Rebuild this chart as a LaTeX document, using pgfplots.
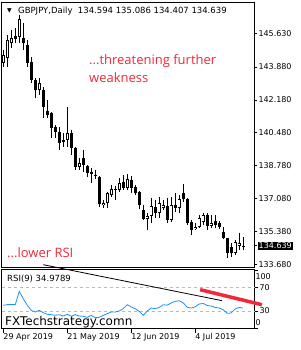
\documentclass[border=0pt]{standalone}
\usepackage{pgfplots}
\pgfplotsset{compat=1.18}
\usepackage{fontspec}
\setmainfont{DejaVu Sans}
\newfontfamily\redfont{Open Sans}
\definecolor{mtred}{RGB}{240,40,55}
\definecolor{rsiblue}{RGB}{30,144,255}
% candle macros: x, open, high, low, close
\newcommand{\bear}[5]{%
 \addplot[black, line width=0.9pt] coordinates {(#1,#4) (#1,#3)};
 \addplot[black, line width=3.2pt] coordinates {(#1,#2) (#1,#5)};}
\newcommand{\bull}[5]{%
 \addplot[black, line width=0.9pt] coordinates {(#1,#4) (#1,#3)};
 \addplot[black, line width=3.2pt] coordinates {(#1,#2) (#1,#5)};
 \addplot[white, line width=1.4pt, shorten <=0.9pt, shorten >=0.9pt] coordinates {(#1,#2) (#1,#5)};}
\begin{document}
\begin{tikzpicture}
\useasboundingbox (0,0) rectangle (300pt,350pt);
\begin{axis}[
  at={(1.7pt,83pt)}, anchor=south west, scale only axis,
  width=252.6pt, height=264.3pt,
  xmin=-0.4, xmax=62.8, ymin=133.54, ymax=147.21,
  xtick=\empty,
  ytick={133.68,135.38,137.08,138.78,140.48,142.18,143.88,145.63},
  yticklabels={133.680,135.380,137.080,138.780,140.480,142.180,143.880,145.630},
  ytick pos=right, tick align=outside, major tick length=3pt,
  tick style={black, line width=0.8pt},
  yticklabel style={font=\fontsize{8}{9}\selectfont, inner sep=1pt},
  extra y ticks={134.639}, extra y tick labels={134.639},
  extra y tick style={yticklabel style={fill=black, text=white, inner sep=1.2pt}},
  axis line style={line width=0.8pt},
]
\bull{0}{144.093}{144.766}{143.886}{144.507}
\bull{1}{144.352}{145.542}{143.886}{145.283}
\bull{2}{145.128}{145.801}{144.870}{145.387}
\bear{3}{145.490}{145.904}{145.128}{145.335}
\bull{4}{145.439}{146.577}{145.128}{146.370}
\bear{5}{145.387}{146.163}{144.766}{145.128}
\bear{6}{145.025}{145.283}{143.886}{144.093}
\bear{7}{144.145}{144.404}{143.059}{143.214}
\bear{8}{143.214}{143.317}{142.282}{142.696}
\bull{9}{142.696}{143.317}{142.438}{143.059}
\bear{10}{142.696}{142.852}{141.248}{141.817}
\bear{11}{141.610}{142.179}{141.248}{141.403}
\bear{12}{141.506}{141.560}{140.213}{140.730}
\bear{13}{140.782}{140.885}{140.213}{140.523}
\bear{14}{140.523}{140.782}{139.592}{139.954}
\bear{15}{140.109}{140.472}{139.747}{140.006}
\bull{16}{140.109}{141.817}{139.747}{140.472}
\bear{17}{140.472}{140.627}{139.333}{139.695}
\bear{18}{139.695}{139.747}{138.557}{138.712}
\bull{19}{138.712}{139.178}{138.557}{138.919}
\bear{20}{139.178}{139.592}{138.454}{138.816}
\bear{21}{138.764}{138.816}{138.195}{138.402}
\bear{22}{138.454}{138.661}{137.885}{138.350}
\bear{23}{138.298}{138.557}{138.092}{138.247}
\bear{24}{138.195}{138.247}{136.643}{136.798}
\bull{25}{136.746}{137.005}{136.591}{136.850}
\bull{26}{136.850}{137.419}{136.591}{137.367}
\bull{27}{137.264}{137.781}{137.160}{137.574}
\bear{28}{137.574}{137.729}{137.005}{137.522}
\bull{29}{137.522}{138.143}{137.419}{137.885}
\bear{30}{137.936}{138.298}{137.522}{137.626}
\bull{31}{137.626}{138.350}{137.522}{138.092}
\bear{32}{138.040}{138.247}{137.367}{137.626}
\bear{33}{137.678}{137.781}{137.264}{137.367}
\bear{34}{137.419}{137.450}{136.539}{136.746}
\bear{35}{136.488}{136.746}{135.970}{136.022}
\bull{36}{136.022}{136.332}{135.453}{136.177}
\bull{37}{136.177}{137.108}{135.815}{136.695}
\bear{38}{136.643}{137.005}{136.074}{136.332}
\bull{39}{136.332}{137.160}{136.074}{136.850}
\bull{40}{136.591}{137.005}{136.488}{136.746}
\bear{41}{136.695}{137.108}{135.815}{135.970}
\bull{42}{135.970}{137.160}{135.867}{136.746}
\bear{43}{136.746}{137.367}{136.384}{136.591}
\bull{44}{136.591}{137.264}{136.332}{137.057}
\bear{45}{137.367}{137.833}{136.902}{137.057}
\bear{46}{137.057}{137.108}{135.711}{135.815}
\bear{47}{135.867}{135.970}{135.194}{135.453}
\bull{48}{135.505}{135.815}{135.453}{135.608}
\bull{49}{135.608}{136.229}{135.556}{136.074}
\bull{50}{135.867}{136.332}{135.711}{136.229}
\bear{51}{136.229}{136.332}{135.453}{135.660}
\bull{52}{135.660}{136.229}{135.556}{135.815}
\bear{53}{135.918}{136.229}{135.556}{135.711}
\bear{54}{135.815}{135.918}{135.505}{135.608}
\bear{55}{135.349}{135.608}{134.987}{135.039}
\bear{56}{135.039}{135.060}{134.004}{134.263}
\bear{57}{134.573}{134.780}{134.056}{134.263}
\bull{58}{134.263}{134.935}{134.159}{134.832}
\bull{59}{134.625}{135.298}{134.418}{134.780}
\bear{60}{134.594}{135.086}{134.407}{134.639}
\end{axis}
\begin{axis}[
  at={(1.7pt,21.3pt)}, anchor=south west, scale only axis,
  width=252.6pt, height=59.4pt,
  xmin=-0.4, xmax=62.8, ymin=-0.4, ymax=101.6,
  clip=false,
  xtick={0,16,32,48},
  xticklabels={29 Apr 2019,21 May 2019,12 Jun 2019,4 Jul 2019},
  xtick pos=bottom, ytick pos=right, tick align=outside,
  major tick length=4pt,
  tick style={black, line width=0.8pt},
  xticklabel style={font=\fontsize{8}{9}\selectfont, anchor=north west, inner sep=1pt, xshift=-1pt},
  ytick={0,30,70,100}, yticklabels={{},30,70,{}},
  yticklabel style={font=\fontsize{8}{9}\selectfont, inner sep=1pt},
  axis line style={line width=0.8pt},
]
\draw[gray!55, dashed, line width=0.7pt] (axis cs:-0.4,70) -- (axis cs:62.8,70);
\draw[gray!55, dashed, line width=0.7pt] (axis cs:-0.4,30) -- (axis cs:62.8,30);
\addplot[rsiblue, line width=0.8pt] coordinates {
(0,39.7) (1,40.9) (2,40.9) (3,40.9) (4,63.7) (5,51.1) (6,39.7) (7,31.1) (8,28.3) (9,31.1)
(10,27.1) (11,24.3) (12,23.7) (13,22.6) (14,23.7) (15,21.4) (16,24.3) (17,20.9) (18,23.7) (19,21.4)
(20,20.9) (21,19.1) (22,22.6) (23,18.6) (24,19.1) (25,22.6) (26,25.4) (27,28.3) (28,28.3) (29,30.0)
(30,34.0) (31,40.9) (32,36.9) (33,34.0) (34,29.4) (35,22.5) (36,30.0) (37,35.1) (38,34.0) (39,36.0)
(40,40.8) (41,40.0) (42,43.7) (43,46.5) (44,47.7) (45,44.0) (46,36.5) (47,35.1) (48,37.0) (49,42.0)
(50,43.0) (51,39.5) (52,38.5) (53,36.2) (54,35.1) (55,32.2) (56,26.0) (57,26.5) (58,33.5) (59,36.2)
(60,34.98)};
\addplot[black, line width=0.8pt] coordinates {(10,109.5) (54.75,47.7)};
\addplot[mtred, line width=3.5pt] coordinates {(49.25,66.6) (64.7,40.8)};
\node[anchor=west, font=\fontsize{8}{9}\selectfont, inner sep=1pt] at (rel axis cs:1,0.871) {100};
\node[anchor=west, font=\fontsize{8}{9}\selectfont, inner sep=1pt] at (rel axis cs:1,0.10) {0};
\end{axis}
\node[anchor=center, font=\fontsize{6}{7}\selectfont, inner sep=0pt] at (9.5pt,339.5pt) {▼};
\node[anchor=base west, font=\fontsize{8.5}{10}\selectfont, inner sep=0pt] at (18pt,336pt) {GBPJPY,Daily\ \ 134.594 135.086 134.407 134.639};
\node[anchor=base west, font=\redfont\fontsize{13}{15}\selectfont, text=mtred, inner sep=0pt] at (89pt,285pt) {...threatening further};
\node[anchor=base west, font=\redfont\fontsize{13}{15}\selectfont, text=mtred, inner sep=0pt] at (89pt,267.7pt) {weakness};
\node[anchor=base west, font=\redfont\fontsize{13}{15}\selectfont, text=mtred, inner sep=0pt] at (7pt,92.7pt) {...lower RSI};
\node[anchor=base west, font=\fontsize{8.5}{10}\selectfont, inner sep=0pt] at (7pt,68.3pt) {RSI(9) 34.9789};
\node[anchor=base west, font=\fontsize{12}{14}\selectfont, inner sep=0pt] at (5pt,24pt) {FXTechstrategy.comn};
\end{tikzpicture}
\end{document}
